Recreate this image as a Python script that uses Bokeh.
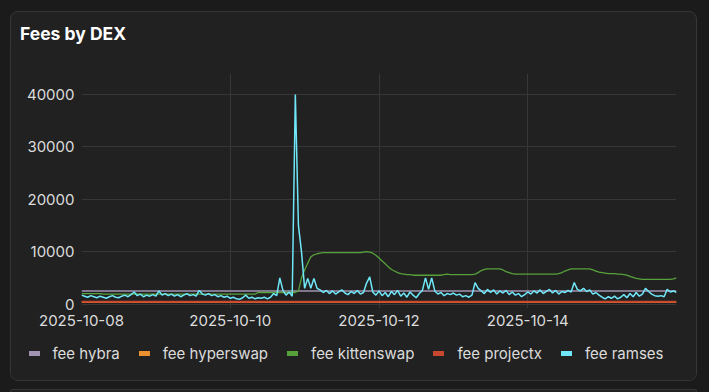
import math
import pandas as pd
from bokeh.plotting import figure
from bokeh.models import Range1d, Legend, LegendItem, DatetimeTickFormatter, FixedTicker, Div
from bokeh.layouts import column
from bokeh.embed import file_html
from bokeh.resources import INLINE

# ---------------- data ----------------
title_text = "Fees by DEX"
start_time = "2025-10-08 00:00"
n_hours = 193
x_tick_dates = ["2025-10-08", "2025-10-10", "2025-10-12", "2025-10-14"]
y_ticks = [0, 10000, 20000, 30000, 40000]
series_names = ["hybra", "hyperswap", "kittenswap", "projectx", "ramses"]

hybra = [
    2500, 2500, 2500, 2500, 2500, 2500, 2500, 2500, 2500, 2500, 2500, 2500, 2500, 2500, 2500, 2500, 2500, 2500, 2500, 2500, 2500, 2500, 2500, 2500,
    2500, 2500, 2500, 2500, 2500, 2500, 2500, 2500, 2500, 2500, 2500, 2500, 2500, 2500, 2500, 2500, 2500, 2500, 2500, 2500, 2500, 2500, 2500, 2500,
    2500, 2500, 2500, 2500, 2500, 2500, 2500, 2500, 2500, 2500, 2500, 2500, 2500, 2500, 2500, 2500, 2500, 2500, 2500, 2500, 2500, 2500, 2500, 2500,
    2500, 2500, 2500, 2500, 2500, 2500, 2500, 2500, 2500, 2500, 2500, 2500, 2500, 2500, 2500, 2500, 2500, 2500, 2500, 2500, 2500, 2500, 2500, 2500,
    2500, 2500, 2500, 2500, 2500, 2500, 2500, 2500, 2500, 2500, 2500, 2500, 2500, 2500, 2500, 2500, 2500, 2500, 2500, 2500, 2500, 2500, 2500, 2500,
    2500, 2500, 2500, 2500, 2500, 2500, 2500, 2500, 2500, 2500, 2500, 2500, 2500, 2500, 2500, 2500, 2500, 2500, 2500, 2500, 2500, 2500, 2500, 2500,
    2500, 2500, 2500, 2500, 2500, 2500, 2500, 2500, 2500, 2500, 2500, 2500, 2500, 2500, 2500, 2500, 2500, 2500, 2500, 2500, 2500, 2500, 2500, 2500,
    2500, 2500, 2500, 2500, 2500, 2500, 2500, 2500, 2500, 2500, 2500, 2500, 2500, 2500, 2500, 2500, 2500, 2500, 2500, 2500, 2500, 2500, 2500, 2500,
    2500,
]

hyperswap = [
    350, 350, 350, 350, 350, 350, 350, 350, 350, 350, 350, 350, 350, 350, 350, 350, 350, 350, 350, 350, 350, 350, 350, 350,
    350, 350, 350, 350, 350, 350, 350, 350, 350, 350, 350, 350, 350, 350, 350, 350, 350, 350, 350, 350, 350, 350, 350, 350,
    350, 350, 350, 350, 350, 350, 350, 350, 350, 350, 350, 350, 350, 350, 350, 350, 350, 350, 350, 350, 350, 350, 350, 350,
    350, 350, 350, 350, 350, 350, 350, 350, 350, 350, 350, 350, 350, 350, 350, 350, 350, 350, 350, 350, 350, 350, 350, 350,
    350, 350, 350, 350, 350, 350, 350, 350, 350, 350, 350, 350, 350, 350, 350, 350, 350, 350, 350, 350, 350, 350, 350, 350,
    350, 350, 350, 350, 350, 350, 350, 350, 350, 350, 350, 350, 350, 350, 350, 350, 350, 350, 350, 350, 350, 350, 350, 350,
    350, 350, 350, 350, 350, 350, 350, 350, 350, 350, 350, 350, 350, 350, 350, 350, 350, 350, 350, 350, 350, 350, 350, 350,
    350, 350, 350, 350, 350, 350, 350, 350, 350, 350, 350, 350, 350, 350, 350, 350, 350, 350, 350, 350, 350, 350, 350, 350,
    350,
]

kittenswap = [
    2000, 2000, 2000, 2000, 2000, 2000, 2000, 1900, 1900, 1900, 1900, 1900, 1900, 1900, 1900, 1900, 1900, 1900, 1900, 1900, 1900, 1900, 1900, 1900,
    1900, 1900, 1900, 1900, 1900, 1900, 1900, 1900, 1900, 1900, 1900, 1900, 1900, 1900, 1900, 1900, 1900, 1900, 1900, 1900, 1900, 1900, 1900, 1900,
    1900, 1900, 1900, 1900, 1900, 1900, 1900, 1900, 1900, 2200, 2200, 2200, 2200, 2200, 2200, 2200, 2200, 2200, 2200, 2200, 2200, 2200, 2500, 5000,
    6500, 7800, 9000, 9400, 9600, 9700, 9800, 9800, 9800, 9800, 9800, 9800, 9800, 9800, 9800, 9800, 9800, 9800, 9800, 9900, 10000, 9900, 9700, 9300,
    8800, 8200, 7700, 7100, 6600, 6300, 6000, 5800, 5700, 5600, 5600, 5500, 5500, 5500, 5500, 5500, 5500, 5500, 5500, 5500, 5500, 5600, 5700, 5600,
    5600, 5600, 5600, 5600, 5600, 5600, 5600, 5700, 6000, 6400, 6600, 6700, 6700, 6700, 6700, 6700, 6500, 6200, 6000, 5800, 5700, 5700, 5700, 5700,
    5700, 5700, 5700, 5700, 5700, 5700, 5700, 5700, 5700, 5700, 5800, 6000, 6300, 6500, 6700, 6700, 6700, 6700, 6700, 6700, 6700, 6500, 6300, 6100,
    6000, 5900, 5800, 5800, 5800, 5700, 5700, 5600, 5500, 5300, 5100, 4900, 4800, 4700, 4700, 4700, 4700, 4700, 4700, 4700, 4700, 4700, 4700, 4800,
    5000,
]

projectx = [
    450, 450, 450, 450, 450, 450, 450, 450, 450, 450, 450, 450, 450, 450, 450, 450, 450, 450, 450, 450, 450, 450, 450, 450,
    450, 450, 450, 450, 450, 450, 450, 450, 450, 450, 450, 450, 450, 450, 450, 450, 450, 450, 450, 450, 450, 450, 450, 450,
    450, 450, 450, 450, 450, 450, 450, 450, 450, 450, 450, 450, 450, 450, 450, 450, 450, 450, 450, 450, 450, 450, 450, 450,
    450, 450, 450, 450, 450, 450, 450, 450, 450, 450, 450, 450, 450, 450, 450, 450, 450, 450, 450, 450, 450, 450, 450, 450,
    450, 450, 450, 450, 450, 450, 450, 450, 450, 450, 450, 450, 450, 450, 450, 450, 450, 450, 450, 450, 450, 450, 450, 450,
    450, 450, 450, 450, 450, 450, 450, 450, 450, 450, 450, 450, 450, 450, 450, 450, 450, 450, 450, 450, 450, 450, 450, 450,
    450, 450, 450, 450, 450, 450, 450, 450, 450, 450, 450, 450, 450, 450, 450, 450, 450, 450, 450, 450, 450, 450, 450, 450,
    450, 450, 450, 450, 450, 450, 450, 450, 450, 450, 450, 450, 450, 450, 450, 450, 450, 450, 450, 450, 450, 450, 450, 450,
    450,
]

ramses = [
    1700, 1500, 1300, 1600, 1400, 1200, 1500, 1300, 1100, 1400, 1600, 1300, 1200, 1500, 1700, 1400, 1800, 2300, 1600, 1900, 1400, 1700, 1500, 1800,
    1500, 2500, 1700, 2000, 1600, 1900, 1500, 1800, 1400, 1700, 2000, 1600, 1800, 1500, 2600, 1900, 1700, 2000, 1600, 1800, 1400, 1600, 1300, 1500,
    1100, 1300, 1000, 900, 1200, 1700, 1100, 1300, 1000, 1200, 1100, 1300, 1000, 1300, 2000, 1600, 5000, 2600, 1700, 2300, 1500, 40000, 15000, 9900,
    3000, 4900, 3000, 4900, 3000, 2700, 2200, 2600, 2000, 2500, 1900, 2300, 2700, 2100, 1800, 2400, 2000, 2600, 1900, 2200, 4000, 5200, 2300, 1700,
    2500, 1600, 2200, 1400, 2400, 1800, 2600, 1500, 2100, 1300, 2300, 1700, 1200, 2000, 2600, 5000, 2800, 5000, 2500, 1900, 2200, 1600, 2000, 1800,
    2100, 1700, 1900, 1400, 1600, 1300, 1700, 4100, 3000, 2500, 2000, 2800, 2200, 2700, 1900, 2500, 2100, 2600, 1800, 2300, 1700, 2000, 1400, 1800,
    2300, 1900, 2500, 2100, 2700, 2000, 2400, 2800, 2100, 2600, 1900, 2400, 2200, 2600, 2300, 4100, 2800, 2500, 3000, 2400, 2700, 1900, 2200, 1700,
    1300, 1000, 1400, 1100, 1500, 1000, 1300, 1800, 1200, 2000, 1400, 2200, 1500, 1900, 3000, 2400, 1900, 1600, 1500, 1600, 1400, 2800, 2300, 2500,
    2200,
]

# ---------------- style ----------------
OUTER = "#1b1b1b"
CARD = "#212121"
BORDER = "#363636"
GRID = "#373737"
TEXT = "#dcdcdc"
FONT = "Inter"
colors = ["#a093b2", "#ec8f2f", "#57a13b", "#c8472f", "#6fe7f8"]
widths = [1.5, 1.5, 1.3, 2.0, 1.5]

times = pd.date_range(start_time, periods=n_hours, freq="h")
series = [hybra, hyperswap, kittenswap, projectx, ramses]

# ---------------- main chart ----------------
p = figure(
    width=685, height=290,
    x_axis_type="datetime",
    x_range=Range1d(times[0], times[-1]),
    y_range=Range1d(-850, 44000),
    output_backend="svg", toolbar_location=None,
    min_border_left=70, min_border_right=20, min_border_top=29, min_border_bottom=26,
    background_fill_color=CARD, border_fill_color=CARD, outline_line_color=None,
    margin=0,
)
p.frame_align = False

for vals, c, w in zip(series, colors, widths):
    p.line(times, vals, line_color=c, line_width=w)

x_ticks = [pd.Timestamp(d).value // 10**6 for d in x_tick_dates]
p.xaxis.ticker = FixedTicker(ticks=x_ticks)
fmt = "%Y-%m-%d"
p.xaxis.formatter = DatetimeTickFormatter(hours=fmt, days=fmt, months=fmt, years=fmt)
p.yaxis.ticker = FixedTicker(ticks=y_ticks)
for ax in (p.xaxis[0], p.yaxis[0]):
    ax.axis_line_color = None
    ax.major_tick_line_color = None
    ax.minor_tick_line_color = None
    ax.major_tick_out = 0
    ax.major_tick_in = 0
    ax.minor_tick_out = 0
    ax.major_label_text_font = FONT
    ax.major_label_text_font_size = "15px"
    ax.major_label_text_color = TEXT
p.xaxis.major_label_standoff = 6
p.yaxis.major_label_standoff = 7
p.grid.grid_line_color = GRID
p.grid.grid_line_width = 1

# ---------------- legend strip ----------------
lf = figure(
    width=685, height=46,
    x_range=Range1d(0, 1), y_range=Range1d(0, 1),
    x_axis_location=None, y_axis_location=None,
    output_backend="svg", toolbar_location=None,
    min_border=0, min_border_left=0, min_border_right=0, min_border_top=0, min_border_bottom=0,
    background_fill_color=CARD, border_fill_color=CARD, outline_line_color=None,
    margin=0,
)
lf.frame_align = False
lf.grid.visible = False
nan = math.nan
items = []
for name, c in zip(series_names, colors):
    r = lf.line(x=[nan], y=[nan], line_color=c, line_width=5, line_cap="round")
    items.append(LegendItem(label="fee " + name, renderers=[r]))
legend = Legend(
    items=items, location=(17.5, 17), orientation="horizontal",
    glyph_width=11, glyph_height=20, label_height=20, label_standoff=13, spacing=19,
    padding=0, margin=0, border_line_color=None, background_fill_alpha=0,
    label_text_font=FONT, label_text_font_size="15px", label_text_color=TEXT,
)
lf.add_layout(legend, "center")

title_div = Div(
    text=title_text, width=600, height=21, margin=(11, 0, 0, 9),
    styles={"font-family": FONT, "font-size": "17.5px", "font-weight": "bold",
            "color": "#ffffff", "line-height": "normal"},
)

card = column(
    title_div, p, lf, width=687, height=370, spacing=0, margin=(11, 12, 0, 10),
    styles={"border": f"1px solid {BORDER}", "border-radius": "8px",
            "overflow": "hidden", "background-color": CARD, "box-sizing": "border-box"},
)

next_card = Div(text="", width=687, height=3, margin=(8, 12, 0, 10),
                styles={"border": f"1px solid {BORDER}", "border-bottom": "none",
                        "border-radius": "8px 8px 0 0", "background-color": CARD,
                        "box-sizing": "border-box"})

root = column(card, next_card, width=709, height=392, spacing=0,
              styles={"background-color": OUTER, "overflow": "hidden"})

open("out.html", "w").write(file_html(root, INLINE))
